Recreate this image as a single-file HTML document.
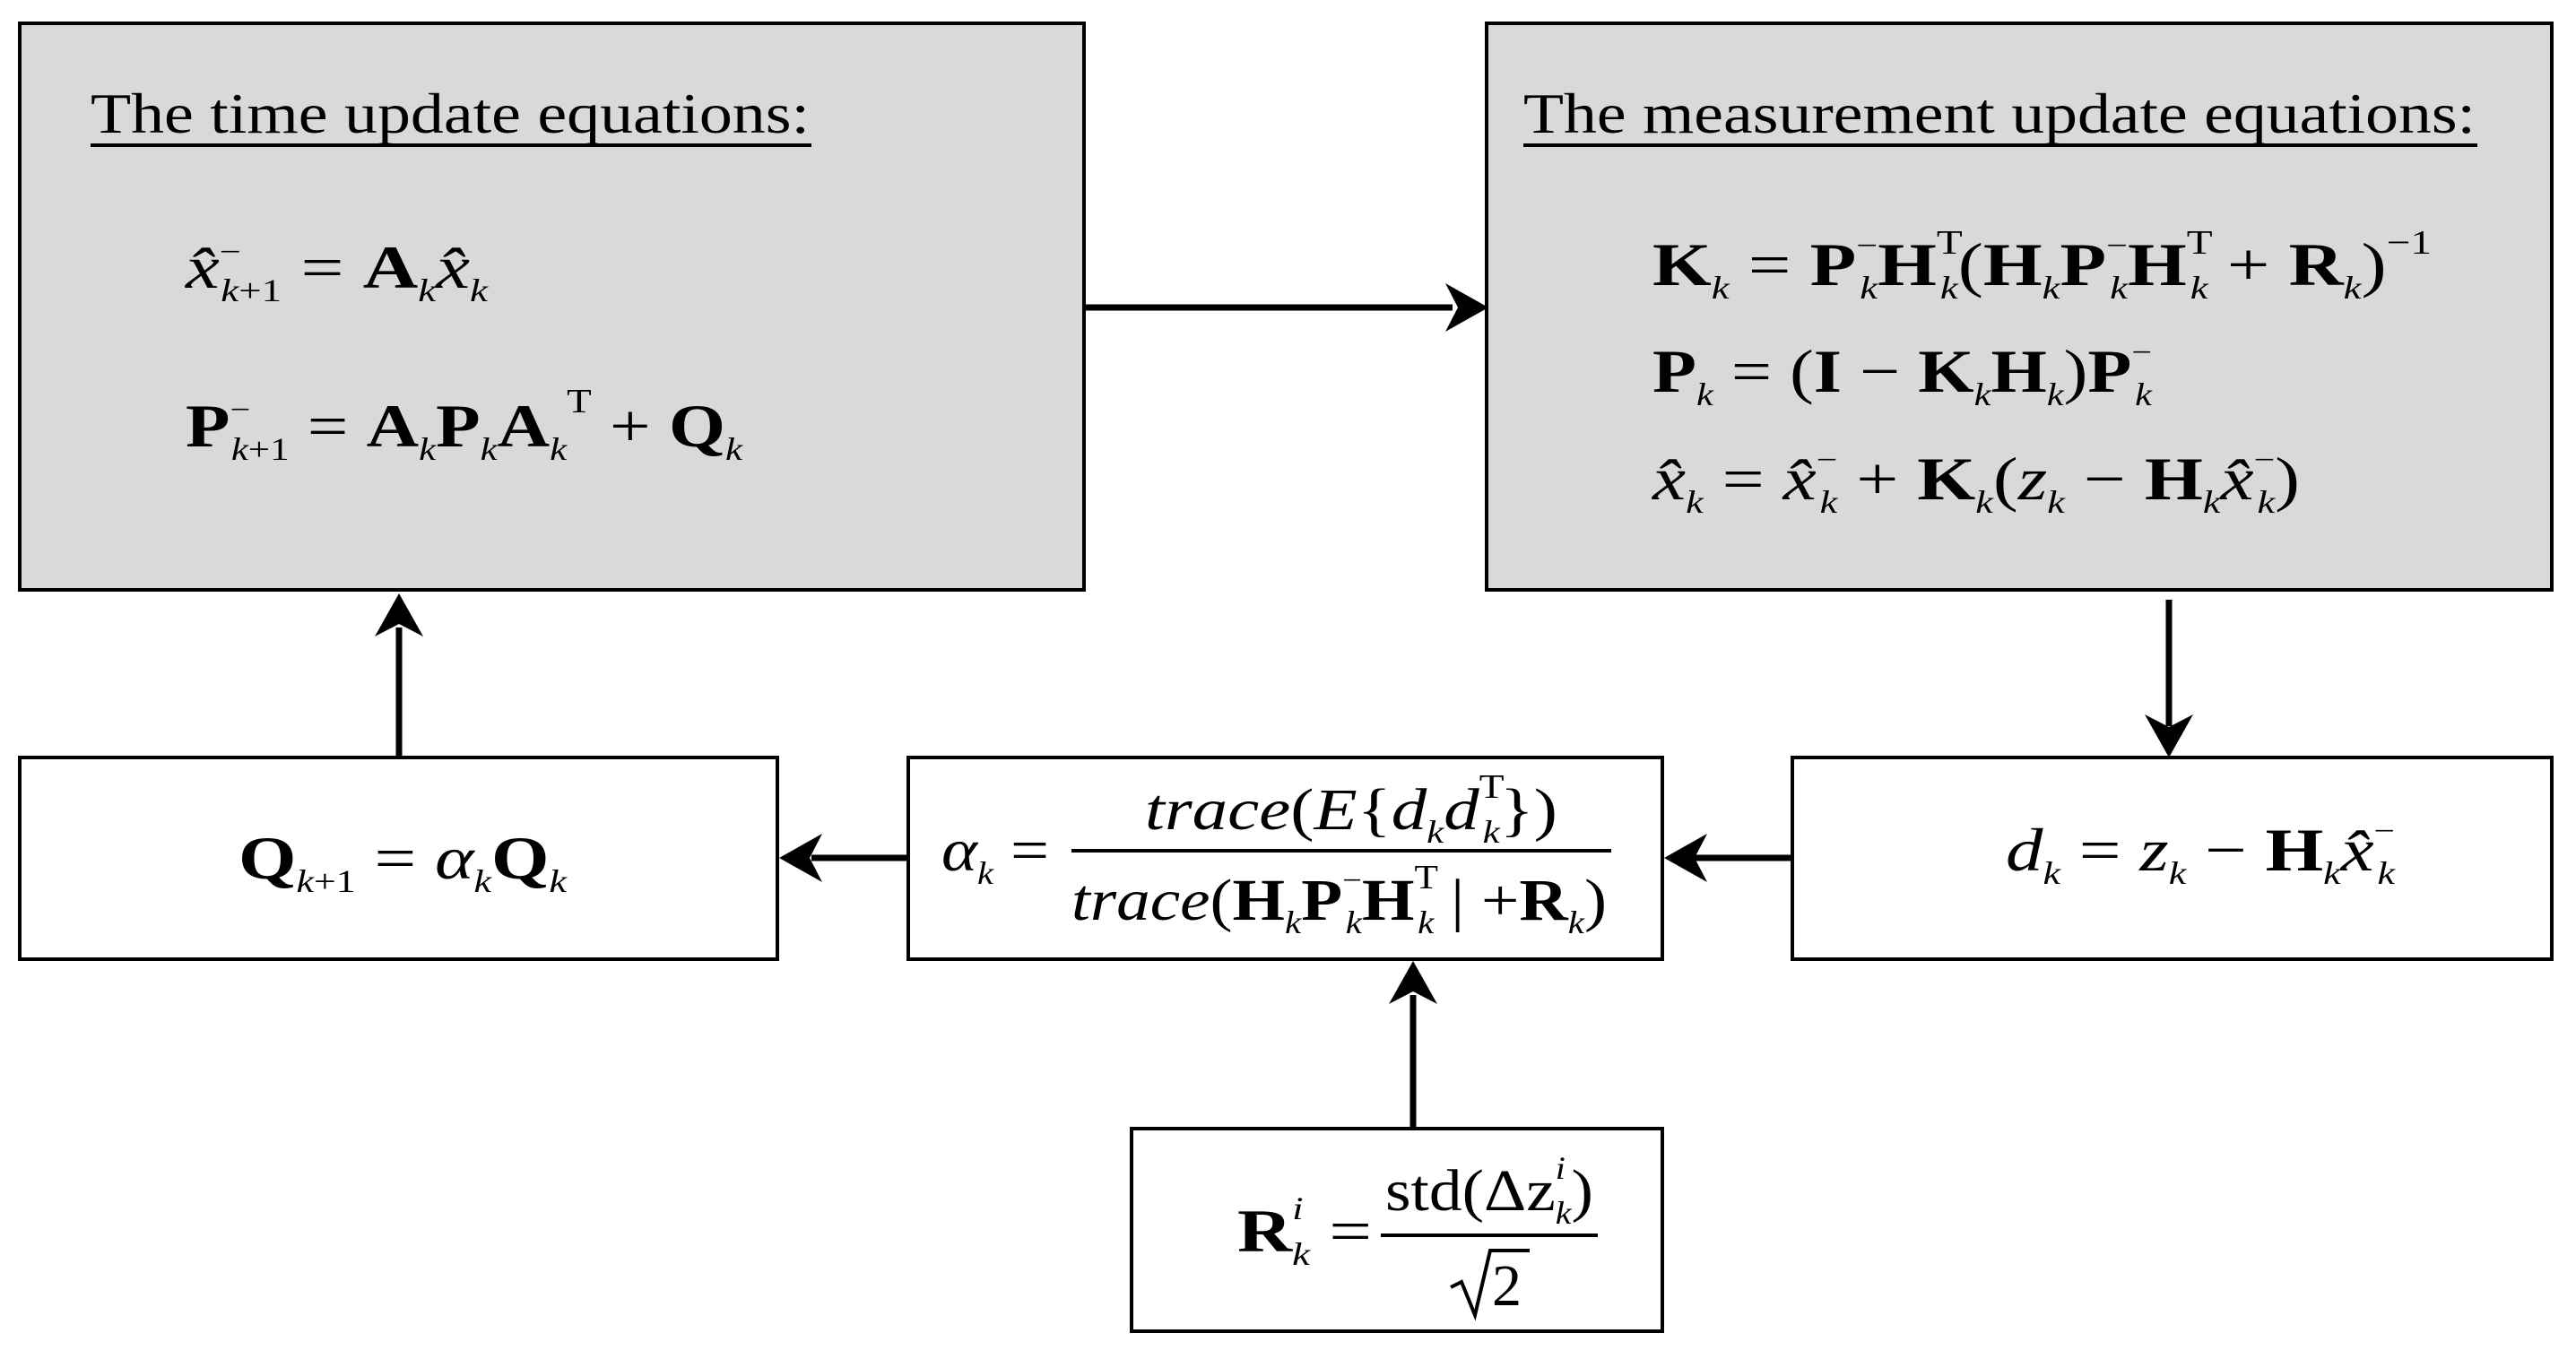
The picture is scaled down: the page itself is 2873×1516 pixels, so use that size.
<!DOCTYPE html>
<html><head><meta charset="utf-8"><style>
html,body{margin:0;padding:0;background:#fff;width:2873px;height:1516px;overflow:hidden}
svg{display:block}
text{font-family:"Liberation Serif",serif;fill:#000}
.b{font-weight:bold}.i{font-style:italic}
</style></head><body>
<svg width="2873" height="1516" viewBox="0 0 2873 1516" xmlns="http://www.w3.org/2000/svg">
<defs><marker id="ah" markerWidth="10" markerHeight="10" refX="9" refY="5" orient="auto" markerUnits="userSpaceOnUse" viewBox="0 0 10 10"><path d="M0,0 L10,5 L0,10 L3,5 Z" fill="#000"/></marker></defs>
<g stroke="#000" stroke-width="4">
<rect x="22" y="26" width="1187" height="632" fill="#d9d9d9"/>
<rect x="1658" y="26" width="1188" height="632" fill="#d9d9d9"/>
<rect x="1999" y="845" width="847" height="225" fill="#fff"/>
<rect x="1013" y="845" width="841" height="225" fill="#fff"/>
<rect x="22" y="845" width="845" height="225" fill="#fff"/>
<rect x="1262" y="1259" width="592" height="226" fill="#fff"/>
</g>
<g stroke="#000" stroke-width="7" fill="none">
<line x1="1209" y1="343" x2="1620" y2="343"/>
<line x1="2419" y1="669" x2="2419" y2="810"/>
<line x1="1999" y1="957" x2="1890" y2="957"/>
<line x1="1013" y1="957" x2="905" y2="957"/>
<line x1="1576" y1="1259" x2="1576" y2="1110"/>
<line x1="445" y1="845" x2="445" y2="700"/>
</g>
<g fill="#000">
<path d="M1660,343 L1612,316 L1626,343 L1612,370 Z"/>
<path d="M2419,845 L2392,797 L2419,811 L2446,797 Z"/>
<path d="M1856,957 L1904,930 L1890,957 L1904,984 Z"/>
<path d="M869,957 L917,930 L903,957 L917,984 Z"/>
<path d="M1576,1072 L1549,1120 L1576,1106 L1603,1120 Z"/>
<path d="M445,662 L418,710 L445,696 L472,710 Z"/>
</g>
<!-- titles -->
<text x="101" y="148" font-size="64" textLength="802" lengthAdjust="spacingAndGlyphs">The time update equations:</text>
<line x1="101" y1="162" x2="905" y2="162" stroke="#000" stroke-width="4"/>
<text x="1699" y="148" font-size="64" textLength="1062" lengthAdjust="spacingAndGlyphs">The measurement update equations:</text>
<line x1="1699" y1="162" x2="2763" y2="162" stroke="#000" stroke-width="4"/>
<!-- box A equations -->
<text x="207" y="321" font-size="68" textLength="337" lengthAdjust="spacingAndGlyphs"><tspan class="i">x̂</tspan><tspan font-size="34" y="292">−</tspan><tspan font-size="36" class="i" y="336" dx="-18">k</tspan><tspan font-size="36" y="336">+1</tspan><tspan y="321"> = </tspan><tspan class="b">A</tspan><tspan font-size="36" class="i" y="336">k</tspan><tspan class="i" y="321">x̂</tspan><tspan font-size="36" class="i" y="336">k</tspan></text>
<text x="207" y="498" font-size="68" textLength="621" lengthAdjust="spacingAndGlyphs"><tspan class="b">P</tspan><tspan font-size="34" y="468">−</tspan><tspan font-size="36" class="i" y="513" dx="-18">k</tspan><tspan font-size="36" y="513">+1</tspan><tspan y="498"> = </tspan><tspan class="b">A</tspan><tspan font-size="36" class="i" y="513">k</tspan><tspan class="b" y="498">P</tspan><tspan font-size="36" class="i" y="513">k</tspan><tspan class="b" y="498">A</tspan><tspan font-size="36" class="i" y="513">k</tspan><tspan font-size="38" y="460">T</tspan><tspan y="498"> + </tspan><tspan class="b">Q</tspan><tspan font-size="36" class="i" y="513">k</tspan></text>
<!-- box B equations -->
<text x="1843" y="318" font-size="68" textLength="869" lengthAdjust="spacingAndGlyphs"><tspan class="b">K</tspan><tspan font-size="36" class="i" y="333">k</tspan><tspan y="318"> = </tspan><tspan class="b">P</tspan><tspan font-size="34" y="285">−</tspan><tspan font-size="36" class="i" y="333" dx="-16">k</tspan><tspan class="b" y="318">H</tspan><tspan font-size="38" y="283">T</tspan><tspan font-size="36" class="i" y="333" dx="-20">k</tspan><tspan y="318">(</tspan><tspan class="b">H</tspan><tspan font-size="36" class="i" y="333">k</tspan><tspan class="b" y="318">P</tspan><tspan font-size="34" y="285">−</tspan><tspan font-size="36" class="i" y="333" dx="-16">k</tspan><tspan class="b" y="318">H</tspan><tspan font-size="38" y="283">T</tspan><tspan font-size="36" class="i" y="333" dx="-20">k</tspan><tspan y="318"> + </tspan><tspan class="b">R</tspan><tspan font-size="36" class="i" y="333">k</tspan><tspan y="318">)</tspan><tspan font-size="38" y="283">−1</tspan></text>
<text x="1843" y="437" font-size="68" textLength="557" lengthAdjust="spacingAndGlyphs"><tspan class="b">P</tspan><tspan font-size="36" class="i" y="452">k</tspan><tspan y="437"> = (</tspan><tspan class="b">I</tspan><tspan> − </tspan><tspan class="b">K</tspan><tspan font-size="36" class="i" y="452">k</tspan><tspan class="b" y="437">H</tspan><tspan font-size="36" class="i" y="452">k</tspan><tspan y="437">)</tspan><tspan class="b">P</tspan><tspan font-size="34" y="404">−</tspan><tspan font-size="36" class="i" y="452" dx="-16">k</tspan></text>
<text x="1843" y="557" font-size="68" textLength="722" lengthAdjust="spacingAndGlyphs"><tspan class="i">x̂</tspan><tspan font-size="36" class="i" y="572">k</tspan><tspan y="557"> = </tspan><tspan class="i">x̂</tspan><tspan font-size="34" y="524">−</tspan><tspan font-size="36" class="i" y="572" dx="-16">k</tspan><tspan y="557"> + </tspan><tspan class="b">K</tspan><tspan font-size="36" class="i" y="572">k</tspan><tspan y="557">(</tspan><tspan class="i">z</tspan><tspan font-size="36" class="i" y="572">k</tspan><tspan y="557"> − </tspan><tspan class="b">H</tspan><tspan font-size="36" class="i" y="572">k</tspan><tspan class="i" y="557">x̂</tspan><tspan font-size="34" y="524">−</tspan><tspan font-size="36" class="i" y="572" dx="-16">k</tspan><tspan y="557">)</tspan></text>
<!-- Q box -->
<text x="266" y="980" font-size="68" textLength="366" lengthAdjust="spacingAndGlyphs"><tspan class="b">Q</tspan><tspan font-size="36" class="i" y="995">k</tspan><tspan font-size="36" y="995">+1</tspan><tspan y="980"> = </tspan><tspan class="i">α</tspan><tspan font-size="36" class="i" y="995">k</tspan><tspan class="b" y="980">Q</tspan><tspan font-size="36" class="i" y="995">k</tspan></text>
<!-- alpha box -->
<text x="1050" y="971" font-size="68" textLength="120" lengthAdjust="spacingAndGlyphs"><tspan class="i">α</tspan><tspan font-size="36" class="i" y="986">k</tspan><tspan y="971"> =</tspan></text>
<line x1="1195" y1="949" x2="1797" y2="949" stroke="#000" stroke-width="4"/>
<text x="1277" y="925" font-size="66" textLength="460" lengthAdjust="spacingAndGlyphs"><tspan class="i">trace</tspan><tspan>(</tspan><tspan class="i">E</tspan><tspan>{</tspan><tspan class="i">d</tspan><tspan font-size="36" class="i" y="940">k</tspan><tspan class="i" y="925">d</tspan><tspan font-size="38" y="890">T</tspan><tspan font-size="36" class="i" y="940" dx="-20">k</tspan><tspan y="925">})</tspan></text>
<text x="1195" y="1026" font-size="66" textLength="597" lengthAdjust="spacingAndGlyphs"><tspan class="i">trace</tspan><tspan>(</tspan><tspan class="b">H</tspan><tspan font-size="36" class="i" y="1041">k</tspan><tspan class="b" y="1026">P</tspan><tspan font-size="34" y="993">−</tspan><tspan font-size="36" class="i" y="1041" dx="-16">k</tspan><tspan class="b" y="1026">H</tspan><tspan font-size="38" y="991">T</tspan><tspan font-size="36" class="i" y="1041" dx="-20">k</tspan><tspan y="1026"> | +</tspan><tspan class="b">R</tspan><tspan font-size="36" class="i" y="1041">k</tspan><tspan y="1026">)</tspan></text>
<!-- d box -->
<text x="2237" y="971" font-size="68" textLength="434" lengthAdjust="spacingAndGlyphs"><tspan class="i">d</tspan><tspan font-size="36" class="i" y="986">k</tspan><tspan y="971"> = </tspan><tspan class="i">z</tspan><tspan font-size="36" class="i" y="986">k</tspan><tspan y="971"> − </tspan><tspan class="b">H</tspan><tspan font-size="36" class="i" y="986">k</tspan><tspan class="i" y="971">x̂</tspan><tspan font-size="34" y="938">−</tspan><tspan font-size="36" class="i" y="986" dx="-16">k</tspan></text>
<!-- R box -->
<text x="1380" y="1396" font-size="68" textLength="150" lengthAdjust="spacingAndGlyphs"><tspan class="b">R</tspan><tspan font-size="36" class="i" y="1360">i</tspan><tspan font-size="36" class="i" y="1411" dx="-10">k</tspan><tspan y="1396"> =</tspan></text>
<line x1="1540" y1="1378" x2="1782" y2="1378" stroke="#000" stroke-width="4"/>
<text x="1545" y="1350" font-size="66" textLength="232" lengthAdjust="spacingAndGlyphs"><tspan>std(Δz</tspan><tspan font-size="36" class="i" y="1315">i</tspan><tspan font-size="36" class="i" y="1365" dx="-10">k</tspan><tspan y="1350">)</tspan></text>
<path d="M1618,1436 L1630,1430 L1645,1467 L1662,1395 L1706,1395" stroke="#000" stroke-width="4" fill="none"/>
<text x="1664" y="1456" font-size="66">2</text>
</svg>
</body></html>
